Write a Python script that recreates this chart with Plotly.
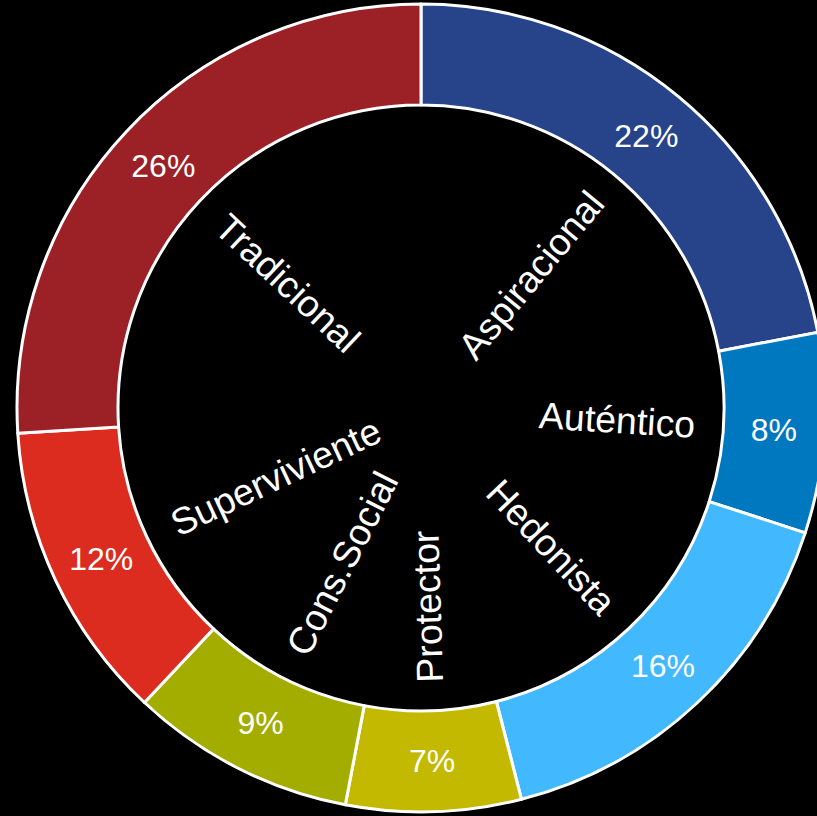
import math
import plotly.graph_objects as go

# ---- data ----
labels = ["Aspiracional", "Auténtico", "Hedonista", "Protector",
          "Cons.Social", "Superviviente", "Tradicional"]
values = [22, 8, 16, 7, 9, 12, 26]
colors = ["#27448A", "#0078C0", "#42B9FE", "#C2B900",
          "#A3AD00", "#DC2C1F", "#9C2127"]

# ---- layout constants ----
W, H = 830, 816           # a bit wider than the window: right edge of ring is clipped
CX, CY, RO = 421, 408, 404  # ring centre / outer radius in pixels
DOM_X = [(CX - RO) / W, (CX + RO) / W]
DOM_Y = [1 - (CY + RO) / H, 1 - (CY - RO) / H]
HOLE = 0.75
LABEL_SIZE = 37.5
PCT_SIZE = 32
FONT = "Arial, Liberation Sans, sans-serif"

fig = go.Figure(go.Pie(
    labels=labels,
    values=values,
    sort=False,
    direction="clockwise",
    rotation=0,
    hole=HOLE,
    marker=dict(colors=colors, line=dict(color="white", width=3)),
    textinfo="percent",
    texttemplate="%{percent:.0%}",
    textposition="inside",
    insidetextorientation="horizontal",
    insidetextfont=dict(color="white", size=PCT_SIZE, family=FONT),
    hoverinfo="none",
    showlegend=False,
    domain=dict(x=DOM_X, y=DOM_Y),
))

# approximate Arial advance widths (em) to centre the radial labels
ARIAL = {
    "A": .667, "C": .722, "P": .667, "S": .667, "T": .611, ".": .278,
    "a": .556, "c": .5, "d": .556, "e": .556, "i": .222, "l": .222,
    "n": .556, "o": .556, "p": .556, "r": .333, "s": .5, "t": .278,
    "u": .556, "v": .5, "é": .556, "H": .722,
}

def text_width(s, size):
    return sum(ARIAL.get(ch, .556) for ch in s) * size

# pie geometry in pixels (margins are zero)
x0, x1 = DOM_X[0] * W, DOM_X[1] * W
y0, y1 = (1 - DOM_Y[1]) * H, (1 - DOM_Y[0]) * H
cx, cy = (x0 + x1) / 2, (y0 + y1) / 2
R = min(x1 - x0, y1 - y0) / 2
R_END = 0.68 * R

total = sum(values)
cum = 0
annotations = []
for lab, v in zip(labels, values):
    mid = (cum + v / 2) / total
    cum += v
    theta = 360 * mid
    t = math.radians(theta)
    w = text_width(lab, LABEL_SIZE)
    r = R_END - w / 2
    px = cx + r * math.sin(t)
    py = cy - r * math.cos(t)
    angle = theta - 90 if theta < 170 else theta - 270
    annotations.append(dict(
        x=px / W, y=1 - py / H, xref="paper", yref="paper",
        text=lab, showarrow=False, textangle=angle,
        xanchor="center", yanchor="middle",
        font=dict(color="white", size=LABEL_SIZE, family=FONT),
    ))

fig.update_layout(
    width=W, height=H,
    margin=dict(l=0, r=0, t=0, b=0),
    paper_bgcolor="black",
    plot_bgcolor="black",
    annotations=annotations,
)

fig.write_html(
    "out.html",
    config={"displayModeBar": False},
    post_script="document.body.style.margin='0';"
                "document.body.style.overflow='hidden';"
                "document.body.style.background='black';",
)
